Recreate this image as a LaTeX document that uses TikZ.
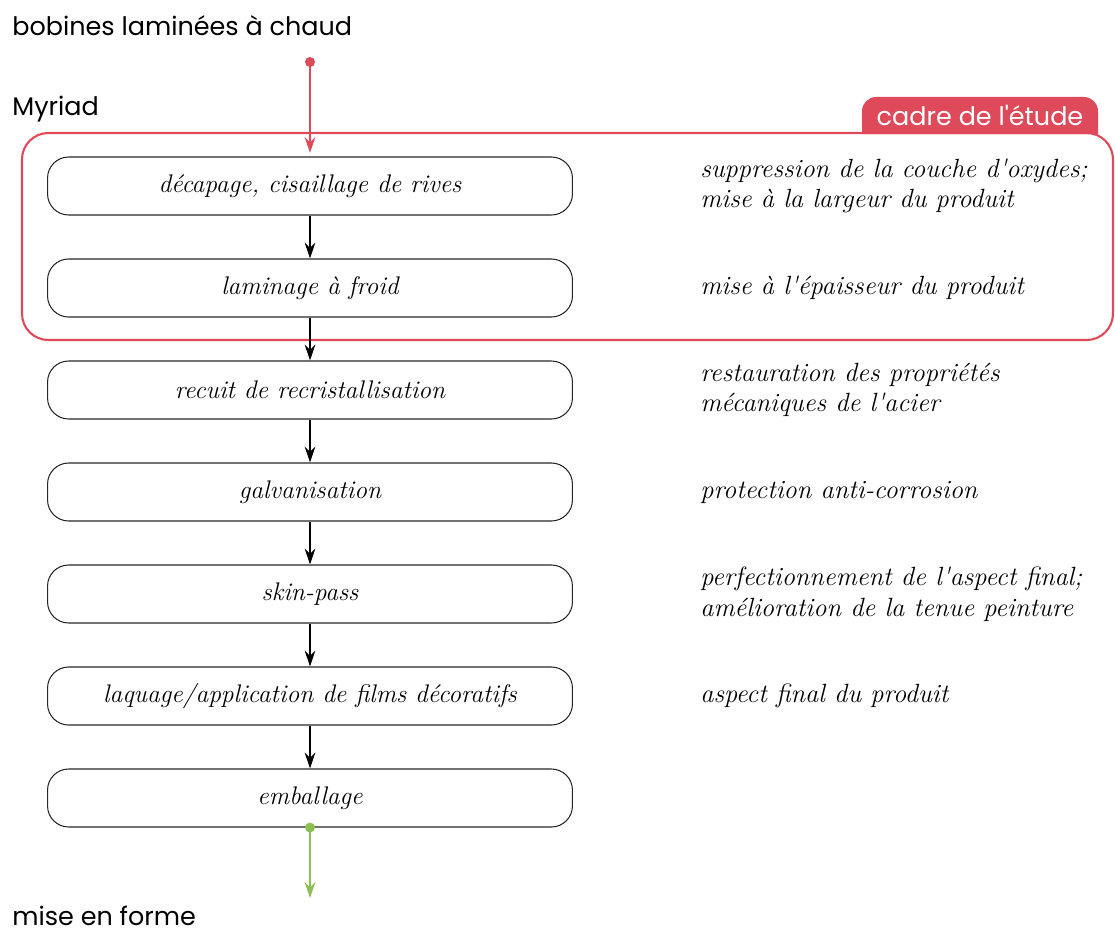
\documentclass[tikz,border=0pt]{standalone}
\usepackage{fontspec}
\newfontfamily\etiquette{Poppins}
\usetikzlibrary{arrows.meta}
\definecolor{cadrerouge}{RGB}{222,74,90}
\definecolor{sortievert}{RGB}{140,192,82}
\newcommand{\apos}{\textquotesingle}
\tikzset{
  etape/.style={draw=black!85, line width=0.6pt, rounded corners=12pt,
    minimum width=10.5cm, minimum height=1.16cm, inner sep=0pt,
    font=\fontsize{14.5}{17}\selectfont\itshape},
  effet/.style={anchor=west, align=left, inner sep=0pt,
    font=\fontsize{15}{17.5}\selectfont\itshape},
  titre/.style={anchor=base west, inner sep=0pt, font=\fontsize{14.5}{16}\selectfont\etiquette},
  fleche/.style={-{Stealth[length=9pt,width=6pt,inset=3pt]}, line width=0.6pt},
}
\begin{document}
\begin{tikzpicture}[x=0.02cm,y=-0.02cm]
  \useasboundingbox (0,0) rectangle (1115,936);

  % titles
  \node[titre] (entreetxt) at (12,36) {bobines laminées à chaud};
  \node[titre] (myriad) at (12,115) {Myriad};
  \node[titre] (sortietxt) at (12,925) {mise en forme};

  % frame
  \draw[cadrerouge, line width=1.2pt, rounded corners=15pt] (22,133) rectangle (1113,340);
  \fill[cadrerouge] (862,134) [rounded corners=8pt] -- (862,97) -- (1098,97) [sharp corners] -- (1098,134) -- cycle;
  \node[inner sep=0pt, text=white, font=\fontsize{14.5}{16}\selectfont\etiquette] (cadre) at (980,115) {cadre de l'étude};

  % steps
  \node[etape] (e1) at (310,186) {décapage, cisaillage de rives};
  \node[etape] (e2) at (310,288) {laminage à froid};
  \node[etape] (e3) at (310,390) {recuit de recristallisation};
  \node[etape] (e4) at (310,492) {galvanisation};
  \node[etape] (e5) at (310,594) {skin-pass};
  \node[etape] (e6) at (310,696) {laquage/application de films décoratifs};
  \node[etape] (e7) at (310,798) {emballage};

  % effects
  \node[effet] (f1) at (700,186) {suppression de la couche d\apos oxydes;\\mise à la largeur du produit};
  \node[effet] (f2) at (700,288) {mise à l\apos épaisseur du produit};
  \node[effet] (f3) at (700,390) {restauration des propriétés\\mécaniques de l\apos acier};
  \node[effet] (f4) at (700,492) {protection anti-corrosion};
  \node[effet] (f5) at (700,594) {perfectionnement de l\apos aspect final;\\amélioration de la tenue peinture};
  \node[effet] (f6) at (700,696) {aspect final du produit};

  % arrows
  \coordinate (entree) at (310,62);
  \coordinate (sortie) at (310,898);
  \fill[cadrerouge] (entree) circle (5);
  \draw[fleche, cadrerouge, line width=1.2pt, shorten >=2pt] (entree) -- (e1);
  \foreach \a/\b in {e1/e2, e2/e3, e3/e4, e4/e5, e5/e6, e6/e7}
    \draw[fleche] (\a) -- (\b);
  \fill[sortievert] (e7.south) circle (5);
  \draw[fleche, sortievert, line width=1.2pt] (e7.south) -- (sortie);
\end{tikzpicture}
\end{document}
